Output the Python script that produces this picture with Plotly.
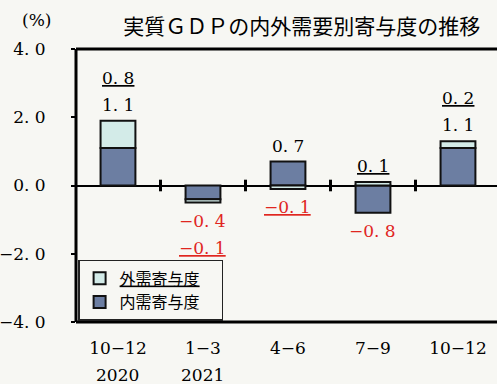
import plotly.graph_objects as go

quarters = ["10−12", "1−3", "4−6", "7−9", "10−12"]
years = ["2020", "2021", "", "", ""]
domestic = [1.1, -0.4, 0.7, -0.8, 1.1]
external = [0.8, -0.1, -0.1, 0.1, 0.2]
y_ticks = [4, 2, 0, -2, -4]

NUM_FONT = "DejaVu Serif, Noto Sans CJK JP"
JP_FONT = "Noto Sans CJK JP"
DOM_COLOR = "#6c7ea2"
EXT_COLOR = "#d3ebe8"
RED = "#e0261f"
BG = "#f7f7f3"

def fmt(v):
    s = f"{abs(v):.1f}".replace(".", ". ")
    return ("−" + s) if v < 0 else s

xs = list(range(len(quarters)))

fig = go.Figure()
fig.add_trace(go.Bar(x=xs, y=domestic, name="内需寄与度\u2002\u2002", width=0.41,
                     marker=dict(color=DOM_COLOR, line=dict(color="#111", width=2))))
fig.add_trace(go.Bar(x=xs, y=external, name="<u>外需寄与度</u>\u2002\u2002", width=0.41,
                     marker=dict(color=EXT_COLOR, line=dict(color="#111", width=2))))

annotations = []
LINE = 27
for i, (d, e) in enumerate(zip(domestic, external)):
    pos_top = sum(v for v in (d, e) if v > 0)
    neg_bot = sum(v for v in (d, e) if v < 0)
    above = []
    below = []
    for v, under in ((d, False), (e, True)):
        txt = fmt(v)
        if under:
            txt = "<u>" + txt + "</u>"
        color = RED if v < 0 else "black"
        if v > 0:
            above.append((txt, color))
        else:
            below.append((txt, color))
    for k, (txt, color) in enumerate(above):
        annotations.append(dict(x=i, y=pos_top, xref="x", yref="y", text=txt,
                                showarrow=False, yanchor="bottom",
                                yshift=4 + k * LINE,
                                font=dict(family=NUM_FONT, size=17, color=color)))
    for k, (txt, color) in enumerate(below):
        annotations.append(dict(x=i, y=neg_bot, xref="x", yref="y", text=txt,
                                showarrow=False, yanchor="top",
                                yshift=-6 - k * LINE,
                                font=dict(family=NUM_FONT, size=17, color=color)))

for i, yr in enumerate(years):
    if yr:
        annotations.append(dict(x=i, y=0, xref="x", yref="paper", text=yr,
                                showarrow=False, yanchor="middle", yshift=-53,
                                font=dict(family=NUM_FONT, size=17, color="black")))

annotations.append(dict(xref="paper", x=-0.095, yref="paper", y=1.105,
                        xanchor="center", yanchor="middle", text="(%)",
                        showarrow=False,
                        font=dict(family=NUM_FONT, size=17, color="black")))

shapes = [
    dict(type="line", xref="paper", yref="paper", x0=0, x1=0, y0=0, y1=1,
         line=dict(color="black", width=3)),
    dict(type="line", xref="paper", yref="paper", x0=0, x1=1, y0=1, y1=1,
         line=dict(color="black", width=3)),
    dict(type="line", xref="paper", yref="paper", x0=0, x1=1, y0=0, y1=0,
         line=dict(color="black", width=3)),
]
for i in range(len(quarters) - 1):
    shapes.append(dict(type="line", xref="x", yref="y", x0=i + 0.5, x1=i + 0.5,
                       y0=-0.17, y1=0.17, line=dict(color="black", width=3)))

fig.update_layout(
    width=497, height=384,
    margin=dict(l=76, r=0, t=49, b=62),
    paper_bgcolor=BG, plot_bgcolor=BG,
    barmode="relative",
    showlegend=True,
    legend=dict(x=0.005, y=0.004, xanchor="left", yanchor="bottom",
                traceorder="reversed", bgcolor=BG, bordercolor="#222",
                borderwidth=1.5, font=dict(family=JP_FONT, size=16, color="black"),
                tracegroupgap=0, itemwidth=30),
    title=dict(text="実質ＧＤＰの内外需要別寄与度の推移", x=0.607, xanchor="center",
               y=0.93, yanchor="middle",
               font=dict(family=JP_FONT, size=21, color="black")),
    annotations=annotations,
    shapes=shapes,
    xaxis=dict(range=[-0.494, 4.459], tickvals=xs, ticktext=quarters,
               showgrid=False, zeroline=False, showline=False, ticks="",
               ticklabelstandoff=14,
               tickfont=dict(family=NUM_FONT, size=17, color="black")),
    yaxis=dict(range=[-4, 4], tickvals=y_ticks, ticktext=[fmt(v) for v in y_ticks],
               showgrid=False, zeroline=True, zerolinecolor="black", zerolinewidth=2,
               showline=False, ticks="outside", ticklen=4, tickwidth=2,
               tickcolor="black", ticklabelstandoff=22,
               tickfont=dict(family=NUM_FONT, size=17, color="black")),
)

fig.write_html("out.html", config={"displayModeBar": False},
               post_script="document.body.style.margin='0';"
                           "document.body.style.background='" + BG + "';")
